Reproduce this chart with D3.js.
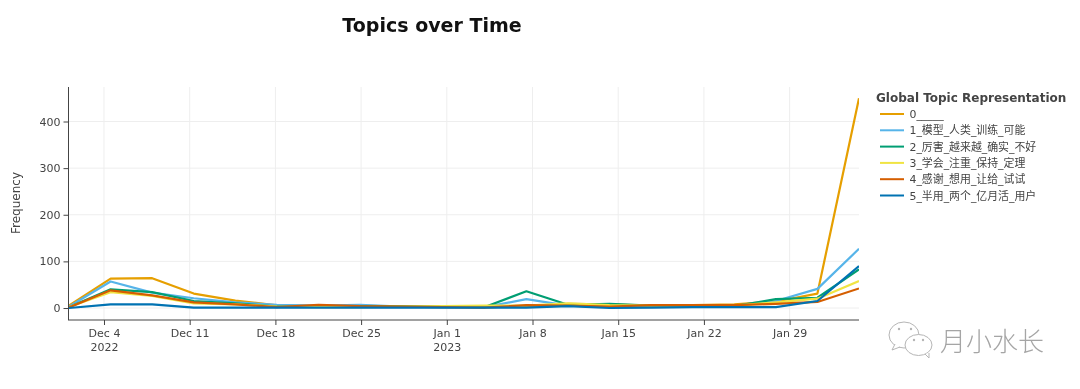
<!DOCTYPE html>
<html><head><meta charset="utf-8">
<script src="https://cdn.jsdelivr.net/npm/d3@7"></script>
<style>
html,body{margin:0;padding:0;background:#fff;overflow:hidden}
svg{display:block;filter:blur(.35px)}
text{font-family:"DejaVu Sans","Noto Sans CJK SC",sans-serif}
</style></head><body><svg id="c" width="1080" height="389"></svg>
<script>
const dates = ["2022-12-01T03:25","2022-12-04T13:00","2022-12-07T22:25","2022-12-11T08:00","2022-12-14T17:30","2022-12-18T03:00","2022-12-21T12:30","2022-12-24T22:00","2022-12-28T07:30","2022-12-31T17:00","2023-01-04T02:30","2023-01-07T12:00","2023-01-10T21:30","2023-01-14T07:00","2023-01-17T16:30","2023-01-21T02:00","2023-01-24T11:30","2023-01-27T21:00","2023-01-31T06:30","2023-02-03T16:00"];
const topicNames = ["0_____","1_模型_人类_训练_可能","2_厉害_越来越_确实_不好","3_学会_注重_保持_定理","4_感谢_想用_让给_试试","5_半用_两个_亿月活_用户"];
const topic0 = [5,63,64,31,16,6,4,5,3,3,4,4,9,8,5,6,8,14,31,450];
const topic1 = [3,57,33,21,12,7,5,7,3,2,2,19,5,3,3,3,4,15,41,127];
const topic2 = [2,40,34,15,10,3,3,4,4,3,2,36,7,9,5,3,4,19,22,83];
const topic3 = [2,34,26,10,8,3,2,2,3,4,5,5,10,6,5,5,5,12,20,58];
const topic4 = [1,38,27,12,8,2,7,4,3,2,1,6,5,3,6,6,6,9,13,42];
const topic5 = [0,8,8,1,1,1,1,1,1,1,1,1,4,0,1,2,2,2,15,90];
const colors = ["#E69F00","#56B4E9","#009E73","#F0E442","#D55E00","#0072B2"];
const xTickDates = ["2022-12-04","2022-12-11","2022-12-18","2022-12-25","2023-01-01","2023-01-08","2023-01-15","2023-01-22","2023-01-29"];
const xTickLabels = ["Dec 4","Dec 11","Dec 18","Dec 25","Jan 1","Jan 8","Jan 15","Jan 22","Jan 29"];
const xTickYears = ["2022","","","","2023","","","",""];
const yTicks = [0,100,200,300,400];

const series = [topic0,topic1,topic2,topic3,topic4,topic5];
const parse = d3.timeParse("%Y-%m-%dT%H:%M");
const parseDay = d3.timeParse("%Y-%m-%d");
const T = dates.map(parse);
const L=69,R=859,Tp=87,B=320;
const x = d3.scaleTime().domain([T[0],T[T.length-1]]).range([L,R]);
const y = d3.scaleLinear().domain([-25.7,474]).range([B,Tp]);
const svg = d3.select("#c");
const tc="#444";

// grid
svg.append("g").selectAll("line").data(xTickDates).join("line")
  .attr("x1",d=>x(parseDay(d))).attr("x2",d=>x(parseDay(d))).attr("y1",Tp).attr("y2",B)
  .attr("stroke","#eeeeee").attr("stroke-width",1);
svg.append("g").selectAll("line").data(yTicks).join("line")
  .attr("x1",L).attr("x2",R).attr("y1",d=>y(d)).attr("y2",d=>y(d))
  .attr("stroke","#eeeeee").attr("stroke-width",1);

// lines
const line = d3.line().x((d,i)=>x(T[i])).y(d=>y(d));
svg.append("clipPath").attr("id","pc").append("rect").attr("x",L).attr("y",Tp).attr("width",R-L).attr("height",B-Tp);
svg.append("g").attr("clip-path","url(#pc)").selectAll("path").data(series).join("path")
  .attr("d",line).attr("fill","none").attr("stroke",(d,i)=>colors[i]).attr("stroke-width",2.2).attr("stroke-linejoin","round");

// axes
const ax = svg.append("g").attr("transform",`translate(0,${B})`)
  .call(d3.axisBottom(x).tickValues(xTickDates.map(parseDay)).tickSize(5).tickPadding(2).tickFormat((d,i)=>xTickLabels[i]));
ax.select(".domain").attr("stroke","#444").attr("d",`M${L-1},0H${R}`);
ax.selectAll(".tick line").attr("stroke","#444");
ax.selectAll(".tick text").attr("fill",tc).style("font-size","11px").attr("dy","0.95em").each(function(d,i){
  if(xTickYears[i]) d3.select(this.parentNode).append("text").attr("y",21).attr("dy","0.95em").attr("text-anchor","middle").attr("fill",tc).style("font-size","11px").text(xTickYears[i]);
});
const ay = svg.append("g").attr("transform",`translate(${L-0.5},0)`)
  .call(d3.axisLeft(y).tickValues(yTicks).tickSize(5).tickPadding(3));
ay.select(".domain").attr("stroke","#444").attr("d",`M0,${Tp}V${B}`);
ay.selectAll(".tick line").attr("stroke","#444");
ay.selectAll(".tick text").attr("fill",tc).style("font-size","11px");

// titles
svg.append("text").attr("x",432).attr("y",32).attr("text-anchor","middle").attr("fill","#111").style("font-size","19px").style("font-weight","bold").text("Topics over Time");
svg.append("text").attr("transform","translate(20,203) rotate(-90)").attr("text-anchor","middle").attr("fill",tc).style("font-size","12px").text("Frequency");

// legend
svg.append("text").attr("x",876).attr("y",102).attr("fill",tc).style("font-size","12px").style("font-weight","bold").text("Global Topic Representation");
const lg = svg.append("g").selectAll("g").data(topicNames).join("g").attr("transform",(d,i)=>`translate(0,${114+i*16.3})`);
lg.append("line").attr("x1",880).attr("x2",904).attr("stroke",(d,i)=>colors[i]).attr("stroke-width",2);
lg.append("text").attr("x",909.5).attr("y",4).attr("fill",tc).style("font-size","10.9px").text(d=>d);

// watermark
const wm = svg.append("g").attr("fill","#fff").attr("stroke","#b5b5b5").attr("stroke-width",1);
wm.append("ellipse").attr("cx",904).attr("cy",335).attr("rx",15).attr("ry",13);
wm.append("path").attr("d","M895,344 l-3,6 l8,-3");
wm.append("ellipse").attr("cx",918.5).attr("cy",345).attr("rx",13.5).attr("ry",10.5);
wm.append("path").attr("d","M925,354 l4,4 l0,-5");
const dots=svg.append("g").attr("fill","#b5b5b5");
[[899,329],[911,329],[914,340],[923,340]].forEach(p=>dots.append("circle").attr("cx",p[0]).attr("cy",p[1]).attr("r",1.2));
svg.append("text").attr("x",940).attr("y",351).attr("fill","#a5a5a5").style("font-family","'Noto Sans CJK SC'").style("font-weight","300").style("font-size","26px").text("月小水长");
</script></body></html>
